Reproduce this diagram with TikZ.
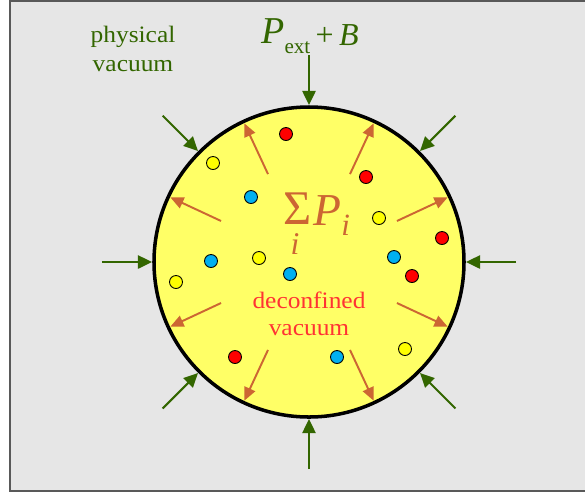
\documentclass[tikz,border=0pt]{standalone}
\usepackage{fontspec}
\setmainfont{Liberation Serif}
\newfontfamily\labelfont[FakeStretch=1.08]{Liberation Serif}
\usetikzlibrary{arrows.meta}
\definecolor{vacgray}{RGB}{230, 230, 230}
\definecolor{bagyellow}{RGB}{255, 255, 102}
\definecolor{pgreen}{RGB}{51, 102, 0}
\definecolor{porange}{RGB}{204, 102, 51}
\definecolor{labelred}{RGB}{255, 51, 51}
\definecolor{qred}{RGB}{255, 0, 0}
\definecolor{qblue}{RGB}{0, 176, 240}
\definecolor{qyellow}{RGB}{255, 255, 0}

\tikzset{
    pushin/.style={draw=pgreen, line width=1.2pt,
                   -{Triangle[length=8pt, width=7.5pt]}},
    pushout/.style={draw=porange, line width=1.1pt,
                    -{Triangle[length=7.5pt, width=6.5pt]}},
    quark/.style={circle, draw=black, line width=0.5pt,
                  minimum size=0.26cm, inner sep=0pt}
}

\begin{document}
\begin{tikzpicture}
    \useasboundingbox (-6.18, -4.62) rectangle (5.52, 5.24);
    % outside: physical vacuum
    \draw[fill=vacgray, draw=black!65, line width=0.8pt]
        (-5.98, -4.58) rectangle (5.8, 5.22);
    % the bag
    \draw[fill=bagyellow, line width=2pt] (0, 0) circle (3.1);

    % quarks and gluons
    \foreach \x/\y/\c [count=\n] in {
        -0.46/2.56/qred, -1.92/1.98/qyellow, -1.16/1.30/qblue,
        1.14/1.70/qred, 1.40/0.88/qyellow, 2.66/0.48/qred,
        -1.96/0.02/qblue, -1.00/0.08/qyellow, -0.38/-0.24/qblue,
        -2.66/-0.40/qyellow, -1.48/-1.90/qred, 1.70/0.10/qblue,
        2.06/-0.28/qred, 1.92/-1.74/qyellow, 0.56/-1.90/qblue}
        \node[quark, fill=\c] (q\n) at (\x, \y) {};

    % pressure from outside
    \foreach \a in {0, 45, ..., 315} {
        \coordinate (out\a) at (\a:4.14);
        \coordinate (rim\a) at (\a:3.14);
        \draw[pushin] (out\a) -- (rim\a);
    }
    % pressure from inside
    \foreach \a in {25, 65, 115, 155, 205, 245, 295, 335} {
        \coordinate (in\a) at (\a:1.94);
        \coordinate (edge\a) at (\a:3.06);
        \draw[pushout] (in\a) -- (edge\a);
    }

    % labels
    \node[font=\labelfont\fontsize{13.4}{16.5}\selectfont, text=pgreen,
          align=center] (physvac) at (-3.52, 4.26) {physical\\vacuum};
    \node[font=\labelfont\fontsize{13.4}{15.4}\selectfont, text=labelred,
          align=center] (deconf) at (0.0, -1.03) {deconfined\\vacuum};
    \node[text=pgreen, anchor=base west, inner sep=0pt] (pext)
        at (-0.96, 4.38)
        {{\fontsize{21.6}{22}\selectfont\itshape P}%
         \raisebox{-5.7pt}{\fontsize{12}{12}\selectfont ext}%
         \raisebox{-1.7pt}{\fontsize{18.2}{19}\selectfont\,+\,\itshape B}};
    \node[text=porange, anchor=base, inner sep=0pt] (sigma)
        at (-0.23, 0.76) {\fontsize{27.5}{28}\selectfont Σ};
    \node[text=porange, anchor=base, inner sep=0pt] (sigmaidx)
        at (-0.28, 0.16) {\fontsize{18}{18}\selectfont\itshape i};
    \node[text=porange, anchor=base west, inner sep=0pt] (psum)
        at (0.08, 0.74)
        {{\fontsize{26}{26}\selectfont\itshape P}%
         \raisebox{-6pt}{\fontsize{17.6}{18}\selectfont\itshape i}};
\end{tikzpicture}
\end{document}
